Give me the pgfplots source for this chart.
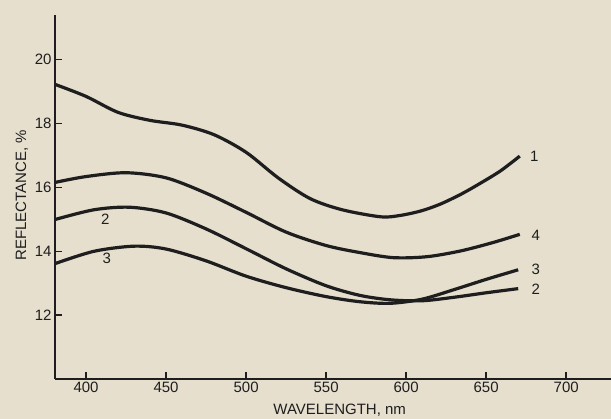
\documentclass[border=0pt]{standalone}
\usepackage{pgfplots}
\pgfplotsset{compat=1.18}
\usepackage{fontspec}
\setmainfont{Liberation Sans}
\usetikzlibrary{backgrounds}
\definecolor{bg}{HTML}{E6DFCE}
\definecolor{ink}{HTML}{1E1E1E}
\begin{document}
\begin{tikzpicture}[x=1pt,y=1pt]
\begin{axis}[
  at={(55pt,40pt)}, anchor=south west,
  scale only axis, width=556pt, height=364pt,
  xmin=380.6, xmax=728, ymin=10, ymax=21.4,
  axis lines=left,
  axis line style={ink, line width=1.8pt, -},
  xtick={400,450,...,700}, ytick={12,14,...,20},
  tick style={ink, line width=1.4pt},
  tick align=inside, major tick length=7pt,
  ticklabel style={font=\fontsize{15}{15}\selectfont, text=ink},
  /pgf/number format/assume math mode=true,
  xlabel={WAVELENGTH, nm}, ylabel={REFLECTANCE, \%},
  label style={font=\fontsize{15}{15}\selectfont, text=ink},
  xlabel style={at={(axis description cs:0.512,-0.085)}, anchor=center},
  ylabel style={at={(axis description cs:-0.0594,0.505)}, anchor=center},
  clip=false,
]
\addplot[ink, line width=3.2pt, smooth] coordinates {
(381,19.22) (400,18.85) (420,18.35) (440,18.1) (460,17.95) (480,17.65) (500,17.1)
(520,16.3) (540,15.65) (560,15.3) (584,15.08) (596,15.12) (609,15.26) (621,15.47)
(634,15.78) (646,16.12) (659,16.52) (671,16.98)};
\addplot[ink, line width=3.2pt, smooth] coordinates {
(381,16.16) (400,16.34) (425,16.46) (450,16.3) (475,15.82) (500,15.22) (525,14.6)
(550,14.18) (571,13.96) (592,13.8) (613,13.83) (634,14.01) (654,14.27) (671,14.53)};
\addplot[ink, line width=3.2pt, smooth] coordinates {
(381,15.0) (405,15.3) (427,15.38) (450,15.2) (475,14.7) (500,14.08) (525,13.45)
(550,12.92) (571,12.62) (590,12.48) (610,12.45) (630,12.56) (650,12.7) (670,12.83)};
\addplot[ink, line width=3.2pt, smooth] coordinates {
(381,13.62) (405,14.0) (430,14.16) (450,14.07) (475,13.7) (500,13.22) (525,12.86)
(550,12.58) (571,12.42) (590,12.37) (610,12.5) (630,12.8) (650,13.12) (670,13.42)};
\node[font=\fontsize{15}{15}\selectfont, text=ink] at (axis cs:680,16.97) {1};
\node[font=\fontsize{15}{15}\selectfont, text=ink] at (axis cs:681,14.5) {4};
\node[font=\fontsize{15}{15}\selectfont, text=ink] at (axis cs:681,13.44) {3};
\node[font=\fontsize{15}{15}\selectfont, text=ink] at (axis cs:681,12.81) {2};
\node[font=\fontsize{15}{15}\selectfont, text=ink] at (axis cs:412,15.0) {2};
\node[font=\fontsize{15}{15}\selectfont, text=ink] at (axis cs:413,13.78) {3};
\end{axis}
\begin{scope}[on background layer]
\fill[bg] (0,0) rectangle (611,419);
\end{scope}
\pgfresetboundingbox
\useasboundingbox (0,0) rectangle (611,419);
\end{tikzpicture}
\end{document}
